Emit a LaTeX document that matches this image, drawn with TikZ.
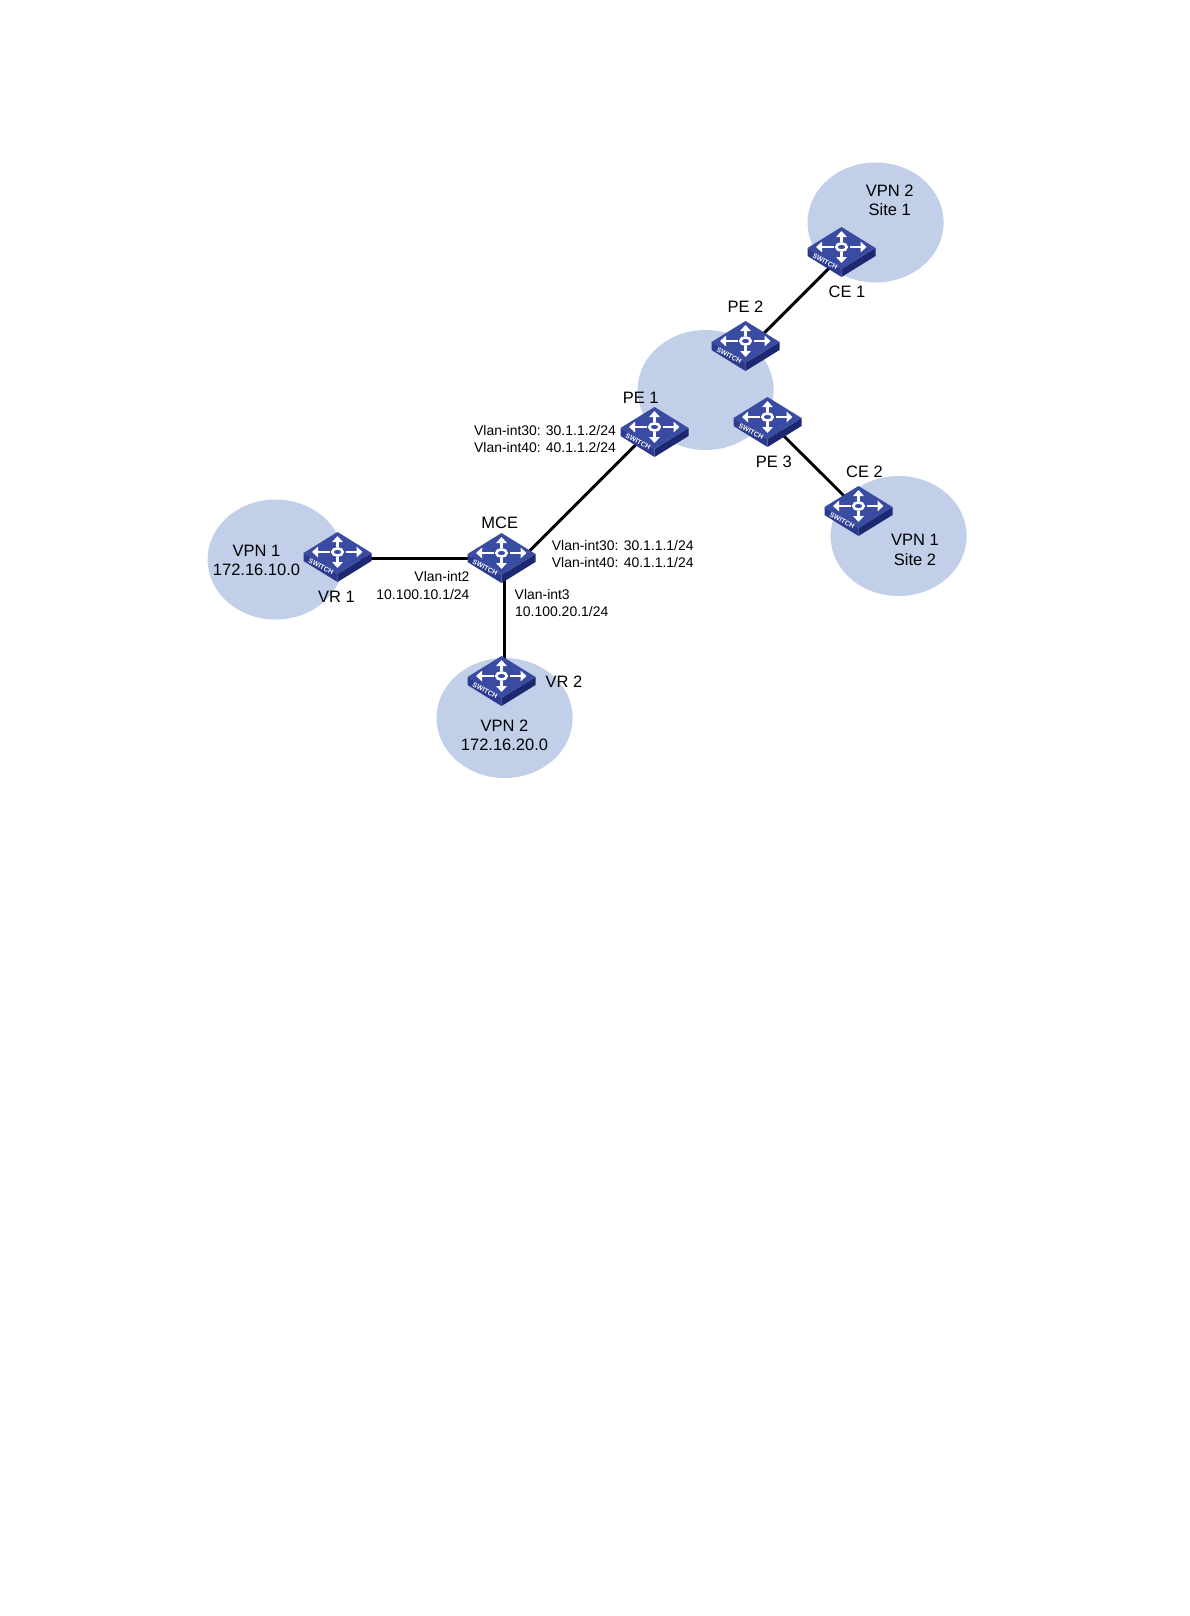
\documentclass[tikz,border=0pt]{standalone}
\usepackage{fontspec}
\setmainfont{Liberation Sans}
\usetikzlibrary{arrows.meta}
\definecolor{cloudblue}{HTML}{C1CFE8}
\definecolor{swtop}{HTML}{3A4BA2}
\definecolor{swleft}{HTML}{2C3B8F}
\definecolor{swright}{HTML}{1C2870}
\tikzset{
  cloud blob/.style={fill=cloudblue,draw=none},
  link/.style={line width=2.9pt,black},
  big/.style={font=\fontsize{16.5}{19.6}\selectfont,inner sep=0pt,align=center},
  small/.style={font=\fontsize{13.95}{17.2}\selectfont,inner sep=0pt},
  swanchor/.style={minimum width=68pt,minimum height=42pt,inner sep=0pt,draw=none},
  swlabel/.style={font=\bfseries\fontsize{6.8}{7}\selectfont,text=white,inner sep=0pt},
  swarrow/.style={white,line width=2.8pt,-{Triangle[length=6pt,width=10.5pt]}}
}
\newcommand{\swnode}[3]{\node[swanchor] (#1) at (#2,#3) {};}
\newcommand{\swart}[2]{%
  \begin{scope}[shift={(#1,#2)}]
    \fill[swleft] (-34,0) -- (0,21) -- (0,29) -- (-34,8) -- cycle;
    \fill[swright] (34,0) -- (0,21) -- (0,29) -- (34,8) -- cycle;
    \fill[swtop] (-34,0) -- (0,-21) -- (34,0) -- (0,21) -- cycle;
    \draw[swarrow] (8,-1) -- (25,-1);
    \draw[swarrow] (-8,-1) -- (-25.5,-1);
    \draw[swarrow] (0,-6) -- (0,-17);
    \draw[swarrow] (0,4) -- (0,15);
    \draw[white,line width=2.6pt] (0,-1) ellipse (5.2pt and 3.6pt);
    \node[swlabel,rotate=-27] at (-16.5,13.8) {SWITCH};
  \end{scope}%
}
\begin{document}
\begin{tikzpicture}[x=1pt,y=-1pt]
\useasboundingbox (0,0) rectangle (1190,1616);
\fill[white] (0,0) rectangle (1190,1616);
% site clouds
\fill[cloud blob] (275.6,559.5) ellipse (68pt and 60pt);
\fill[cloud blob] (504.6,718) ellipse (68pt and 60pt);
\fill[cloud blob] (705.6,390) ellipse (68pt and 60pt);
\fill[cloud blob] (875.6,222.5) ellipse (68pt and 60pt);
\fill[cloud blob] (898.6,536) ellipse (68pt and 60pt);
% device positions
\swnode{vra}{337.5}{553}
\swnode{mce}{501.5}{554}
\swnode{vrb}{501.5}{677}
\swnode{pea}{654.5}{428}
\swnode{peb}{745.5}{342}
\swnode{pec}{767.5}{418}
\swnode{cea}{841.5}{248}
\swnode{ceb}{858.5}{507}
% links
\draw[link] ([shift={(20,5.3)}]vra.center) -- ([shift={(-20,4.3)}]mce.center);
\draw[link] ([shift={(3.3,15)}]mce.center) -- ([shift={(3.3,-10)}]vrb.center);
\draw[link] ([shift={(19,6)}]mce.center) -- ([shift={(-9,7)}]pea.center);
\draw[link] ([shift={(10,-0.3)}]peb.center) -- ([shift={(-4.3,12)}]cea.center);
\draw[link] ([shift={(7,8.7)}]pec.center) -- ([shift={(-7,-3.7)}]ceb.center);
% device drawings
\swart{337.5}{553}
\swart{501.5}{554}
\swart{501.5}{677}
\swart{654.5}{428}
\swart{745.5}{342}
\swart{767.5}{418}
\swart{841.5}{248}
\swart{858.5}{507}
% labels
\node[big] (lvpna) at (256.5,560.5) {VPN 1\\172.16.10.0};
\node[big] (lvra) at (336.5,597) {VR 1};
\node[big] (lmce) at (499.8,523.3) {MCE};
\node[big] (lvrb) at (564,681.7) {VR 2};
\node[big] (lvpnb) at (504.5,735.5) {VPN 2\\172.16.20.0};
\node[big] (lpea) at (640.7,398.3) {PE 1};
\node[big] (lpeb) at (745.5,307) {PE 2};
\node[big] (lpec) at (773.8,462) {PE 3};
\node[big] (lcea) at (847,292.3) {CE 1};
\node[big] (lceb) at (864.5,471.7) {CE 2};
\node[big] (lsa) at (889.8,200.3) {VPN 2\\Site 1};
\node[big] (lsb) at (915,549.7) {VPN 1\\Site 2};
\node[small,anchor=east] (la) at (469.7,577) {Vlan-int2};
\node[small,anchor=east] (lb) at (469.7,594.3) {10.100.10.1/24};
\node[small,anchor=west] (lc) at (514.5,594.3) {Vlan-int3};
\node[small,anchor=west] (ld) at (515,611.7) {10.100.20.1/24};
\node[small,anchor=west] (le) at (551.7,546) {Vlan-int30: 30.1.1.1/24};
\node[small,anchor=west] (lf) at (551.7,563) {Vlan-int40: 40.1.1.1/24};
\node[small,anchor=east] (lg) at (616,430.7) {Vlan-int30: 30.1.1.2/24};
\node[small,anchor=east] (lh) at (616,447.3) {Vlan-int40: 40.1.1.2/24};
\end{tikzpicture}
\end{document}
